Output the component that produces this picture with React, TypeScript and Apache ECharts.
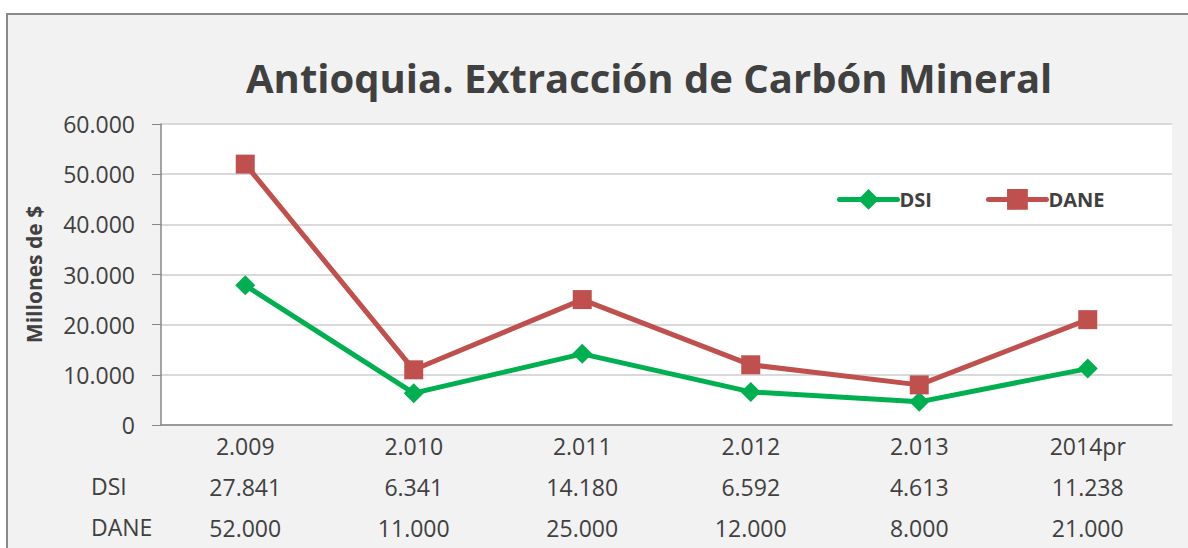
import React, { useEffect, useRef } from "react";
import * as echarts from "echarts";

const categories = ["2.009", "2.010", "2.011", "2.012", "2.013", "2014pr"];
const dsiValues = [27841, 6341, 14180, 6592, 4613, 11238];
const daneValues = [52000, 11000, 25000, 12000, 8000, 21000];
const seriesNames = ["DSI", "DANE"];
const yTicks = { min: 0, max: 60000, interval: 10000 };

const FONT = "'Open Sans', 'Noto Sans', sans-serif";
const TEXT = "#404040";
const GREEN = "#00b050";
const RED = "#c0504d";

function fmt(v: number): string {
  const s = Math.round(v).toString();
  return s.replace(/\B(?=(\d{3})+(?!\d))/g, ".");
}

export default function App() {
  const ref = useRef<HTMLDivElement>(null);
  useEffect(() => {
    if (!ref.current) return;
    const chart = echarts.init(ref.current, null, { renderer: "svg" });
    chart.setOption({
      animation: false,
      backgroundColor: "#ffffff",
      graphic: [
        {
          type: "rect",
          z: -10,
          shape: { x: 7, y: 14, width: 1200, height: 560 },
          style: { fill: "#f2f2f2", stroke: "#888888", lineWidth: 2 },
        },
        {
          type: "text",
          left: 91,
          top: 474,
          style: { text: seriesNames[0], font: `23px ${FONT}`, fill: TEXT },
        },
        {
          type: "text",
          left: 91,
          top: 515,
          style: { text: seriesNames[1], font: `23px ${FONT}`, fill: TEXT },
        },
      ],
      title: {
        text: "Antioquia. Extracción de Carbón Mineral",
        left: 241,
        top: 52,
        textStyle: { fontFamily: FONT, fontSize: 40, fontWeight: "bold", color: TEXT },
      },
      legend: {
        left: 832,
        top: 184,
        itemWidth: 58,
        itemHeight: 26,
        itemGap: 54,
        lineStyle: { width: 5 },
        textStyle: { fontFamily: FONT, fontSize: 20, fontWeight: "bold", color: TEXT, padding: [0, 0, 0, -3] },
        data: [
          { name: seriesNames[0], itemStyle: { color: GREEN }, lineStyle: { color: GREEN, width: 5 } },
          { name: seriesNames[1], itemStyle: { color: RED }, lineStyle: { color: RED, width: 5 } },
        ],
      },
      grid: {
        left: 161,
        top: 124,
        right: 16,
        bottom: 123,
        show: true,
        backgroundColor: "#ffffff",
        borderWidth: 0,
      },
      xAxis: {
        type: "category",
        data: categories,
        boundaryGap: true,
        axisLine: { lineStyle: { color: "#868686", width: 1.5 } },
        axisTick: { show: false },
        axisLabel: {
          margin: 0,
          fontFamily: FONT,
          fontSize: 23,
          color: TEXT,
          lineHeight: 41,
          interval: 0,
          formatter: (val: string, idx: number) =>
            `${val}\n${fmt(dsiValues[idx])}\n${fmt(daneValues[idx])}`,
        },
      },
      yAxis: {
        type: "value",
        min: yTicks.min,
        max: yTicks.max,
        interval: yTicks.interval,
        name: "Millones de $",
        nameLocation: "middle",
        nameGap: 117,
        nameTextStyle: { fontFamily: FONT, fontSize: 21, fontWeight: "bold", color: TEXT },
        axisLine: { show: true, lineStyle: { color: "#868686", width: 1.5 } },
        axisTick: { show: true, length: 9, lineStyle: { color: "#868686" } },
        splitLine: { lineStyle: { color: "#d9d9d9", width: 2 } },
        axisLabel: {
          margin: 26,
          fontFamily: FONT,
          fontSize: 23,
          color: TEXT,
          formatter: (v: number) => fmt(v),
        },
      },
      series: [
        {
          name: seriesNames[0],
          type: "line",
          data: dsiValues,
          symbol: "diamond",
          symbolSize: 20,
          lineStyle: { color: GREEN, width: 5, join: "round", cap: "round" },
          itemStyle: { color: GREEN },
        },
        {
          name: seriesNames[1],
          type: "line",
          data: daneValues,
          symbol: "rect",
          symbolSize: 19,
          lineStyle: { color: RED, width: 5, join: "round", cap: "round" },
          itemStyle: { color: RED },
        },
      ],
    });
    return () => chart.dispose();
  }, []);
  return (
    <div
      ref={ref}
      style={{ position: "absolute", left: 0, top: 0, width: 1188, height: 548 }}
    />
  );
}
